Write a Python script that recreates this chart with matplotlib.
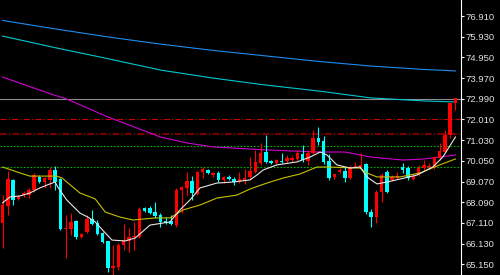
import numpy as np
import matplotlib
matplotlib.use("Agg")
import matplotlib.pyplot as plt

# candle data, oldest -> newest
opens = [67.11, 67.91, 69.15, 68.25, 68.43, 68.43, 68.67, 69.29, 69.05, 69.15,
         69.62, 69.19, 66.82, 66.82, 67.20, 66.45, 66.68, 67.30, 67.11, 66.64,
         66.26, 64.98, 65.03, 66.07, 66.26, 66.45, 66.45, 67.82, 67.82, 67.63,
         67.49, 67.20, 67.20, 67.01, 68.67, 68.77, 69.10, 68.48, 69.52, 69.62,
         69.38, 69.48, 69.15, 69.29, 69.19, 69.05, 69.10, 69.29, 69.52, 69.95,
         70.47, 70.05, 69.95, 70.05, 70.05, 70.09, 70.14, 70.38, 70.05, 70.42,
         71.13, 70.99, 70.05, 69.29, 69.52, 69.57, 69.24, 69.71, 69.76, 69.90,
         67.63, 67.39, 68.58, 69.52, 69.15, 69.24, 69.76, 69.71, 69.19, 69.38,
         69.71, 69.76, 69.71, 70.19, 70.47, 71.28, 72.79]
highs = [68.43, 69.57, 69.19, 68.43, 68.62, 68.77, 69.48, 69.38, 69.29, 69.76,
         69.81, 69.24, 67.49, 67.58, 67.25, 66.64, 67.49, 67.73, 67.25, 66.68,
         66.26, 66.07, 66.16, 67.06, 66.87, 67.16, 67.87, 67.87, 67.91, 68.10,
         67.58, 67.39, 67.49, 68.77, 68.86, 69.52, 69.33, 69.57, 69.76, 69.67,
         69.52, 69.57, 69.33, 69.38, 69.29, 69.52, 69.67, 70.23, 70.57, 70.90,
         71.28, 70.09, 70.14, 70.42, 70.33, 70.28, 70.57, 70.80, 70.57, 71.51,
         71.65, 71.23, 70.38, 69.38, 69.71, 69.76, 69.86, 70.00, 70.42, 69.95,
         67.77, 68.67, 69.48, 69.62, 69.38, 69.52, 69.95, 69.81, 69.38, 69.86,
         70.09, 69.95, 70.28, 70.90, 71.51, 72.79, 73.03]
lows = [65.93, 67.49, 67.96, 68.20, 68.34, 68.29, 68.58, 69.00, 68.77, 68.77,
        68.67, 66.78, 65.45, 66.54, 66.35, 66.40, 66.64, 67.01, 66.54, 66.16,
        64.79, 64.65, 64.88, 65.83, 65.74, 65.83, 66.40, 67.63, 67.53, 67.35,
        66.92, 67.06, 67.01, 66.92, 67.58, 68.43, 68.20, 68.43, 69.24, 69.43,
        69.29, 69.05, 69.00, 69.15, 68.91, 69.00, 68.96, 69.15, 69.48, 69.86,
        69.95, 69.90, 69.90, 69.95, 69.95, 70.00, 70.09, 70.00, 69.86, 70.38,
        70.80, 69.90, 69.15, 69.19, 69.48, 69.05, 69.19, 69.71, 69.76, 67.53,
        66.92, 67.11, 68.10, 68.53, 69.10, 69.19, 69.48, 69.15, 69.15, 69.33,
        69.62, 69.67, 69.67, 70.09, 70.42, 71.13, 72.46]
closes = [67.96, 69.19, 68.20, 68.39, 68.53, 68.67, 69.38, 69.05, 69.24, 69.62,
          69.05, 66.82, 66.87, 67.16, 66.45, 66.59, 67.30, 67.06, 66.59, 66.21,
          64.98, 65.07, 66.07, 66.30, 66.45, 66.49, 67.77, 67.68, 67.58, 67.44,
          67.16, 67.11, 67.06, 68.67, 68.81, 69.10, 68.53, 69.52, 69.67, 69.48,
          69.48, 69.15, 69.29, 69.19, 69.05, 69.19, 69.24, 69.57, 70.00, 70.42,
          70.00, 69.95, 70.09, 70.00, 70.19, 70.19, 70.42, 70.09, 70.42, 71.13,
          70.94, 70.00, 69.24, 69.43, 69.62, 69.24, 69.76, 69.81, 69.86, 67.63,
          67.39, 68.58, 69.38, 68.58, 69.29, 69.33, 69.62, 69.24, 69.33, 69.71,
          69.86, 69.81, 70.23, 70.52, 71.28, 72.79, 73.03]

# moving averages, sampled at bar positions
ma_blue_x = [0, 10, 20, 30, 40, 50, 60, 70, 80, 86]
ma_blue_y = [76.70, 76.30, 75.92, 75.58, 75.28, 75.02, 74.76, 74.54, 74.38, 74.31]
ma_cyan_x = [0, 10, 20, 30, 40, 50, 60, 70, 80, 86]
ma_cyan_y = [75.96, 75.41, 74.89, 74.35, 73.97, 73.64, 73.36, 73.03, 72.89, 72.84]
ma_mag_x = [0, 10, 12, 20, 30, 35, 40, 50, 60, 65, 70, 76, 80, 86]
ma_mag_y = [74.02, 73.15, 73.00, 72.13, 71.18, 70.90, 70.71, 70.57, 70.47, 70.47,
            70.23, 70.09, 70.14, 70.33]
ma_yel_x = [0, 3.3, 5.2, 10.3, 11.3, 14.7, 17.6, 19.5, 22.3, 24.8, 29, 31.8, 34.3,
            37.5, 40.7, 44.5, 47, 50.2, 53.3, 56.5, 59.7, 61.6, 67.9, 69.2, 71.1,
            75.5, 79.3, 83, 86]
ma_yel_y = [69.76, 69.48, 69.33, 69.33, 69.24, 68.53, 68.25, 67.63, 67.39, 67.25,
            67.35, 67.35, 67.73, 67.96, 68.29, 68.43, 68.72, 69.00, 69.24, 69.43,
            69.76, 69.76, 69.71, 69.48, 69.29, 69.29, 69.48, 69.86, 70.14]
ma_wht_x = [0, 1.4, 3.3, 5.2, 7.1, 9, 10, 10.5, 12.2, 14.7, 16.2, 17.6, 19.5, 20.8,
            23.3, 25.2, 26.5, 28, 31.8, 33.7, 35.6, 37.5, 40.7, 43.8, 47, 48.3,
            49.5, 52.1, 55.9, 58.4, 60.3, 61.6, 63.5, 66, 67.9, 69.2, 71.1, 73,
            75.5, 78.7, 81.7, 83.6, 86]
ma_wht_y = [68.06, 68.34, 68.39, 68.53, 68.77, 68.96, 69.05, 68.81, 68.20, 67.58,
            67.39, 67.16, 66.64, 66.30, 66.26, 66.40, 66.68, 67.01, 67.16, 67.73,
            68.20, 68.77, 69.00, 69.05, 69.15, 69.38, 69.62, 69.86, 70.00, 70.23,
            70.47, 70.33, 69.86, 69.71, 69.76, 69.29, 68.96, 69.05, 69.19, 69.38,
            69.76, 70.23, 71.18]

# horizontal levels
bid_level = 73.00
red_level = 72.03
dark_red_level = 71.31
green_levels = [70.75, 69.75]

yticks = [76.910, 75.930, 74.950, 73.970, 72.990, 72.010, 71.030,
          70.050, 69.070, 68.090, 67.110, 66.130, 65.150]

fig = plt.figure(figsize=(5, 2.75), dpi=100, facecolor="black")
ax = fig.add_axes([0, 0, 461 / 500, 1])
ax.set_facecolor("black")

# levels first so candles sit on top
ax.axhline(bid_level, color="#8c8c8c", lw=0.8, zorder=1)
ax.axhline(red_level, color="#d00000", lw=0.8, dashes=[5.5, 2, 1, 2], zorder=1)
ax.axhline(dark_red_level, color="#7a0000", lw=1.5, dashes=[3.2, 1.1, 0.6, 1.1], zorder=1)
for lv in green_levels:
    ax.axhline(lv, color="#00b400", lw=0.8, dashes=[1.5, 1.5], zorder=1)

ax.plot(ma_blue_x, ma_blue_y, color="#1e8cf0", lw=0.8, zorder=2)
ax.plot(ma_cyan_x, ma_cyan_y, color="#00c8d0", lw=0.8, zorder=2)
ax.plot(ma_mag_x, ma_mag_y, color="#d000d0", lw=0.8, zorder=2)

xs = np.arange(len(opens))
for i in xs:
    o, h, l, c = opens[i], highs[i], lows[i], closes[i]
    col = "#ff0000" if c >= o else "#00ffff"
    ax.vlines(i, l, h, color=col, lw=0.8, zorder=3)
    body = max(abs(c - o), 0.04)
    ax.bar(i, body, bottom=min(o, c), width=0.66, color=col, lw=0, zorder=3)

ax.plot(ma_yel_x, ma_yel_y, color="#c8c000", lw=0.8, zorder=4)
ax.plot(ma_wht_x, ma_wht_y, color="#e6e6e6", lw=0.8, zorder=4)

ax.set_xlim(-0.475, 87.06)
ax.set_ylim(64.647, 77.668)

for s in ["top", "left", "bottom"]:
    ax.spines[s].set_visible(False)
ax.spines["right"].set_color("white")
ax.spines["right"].set_linewidth(0.8)
ax.set_xticks([])
ax.yaxis.tick_right()
ax.set_yticks(yticks)
ax.set_yticklabels([f"{v:.3f}" for v in yticks], family="Liberation Sans",
                   fontsize=6.8, color="#e0e0e0")
ax.tick_params(axis="y", direction="out", length=2.5, width=0.8, color="white", pad=0.5)

fig.savefig("out.png", dpi=100, facecolor="black")
